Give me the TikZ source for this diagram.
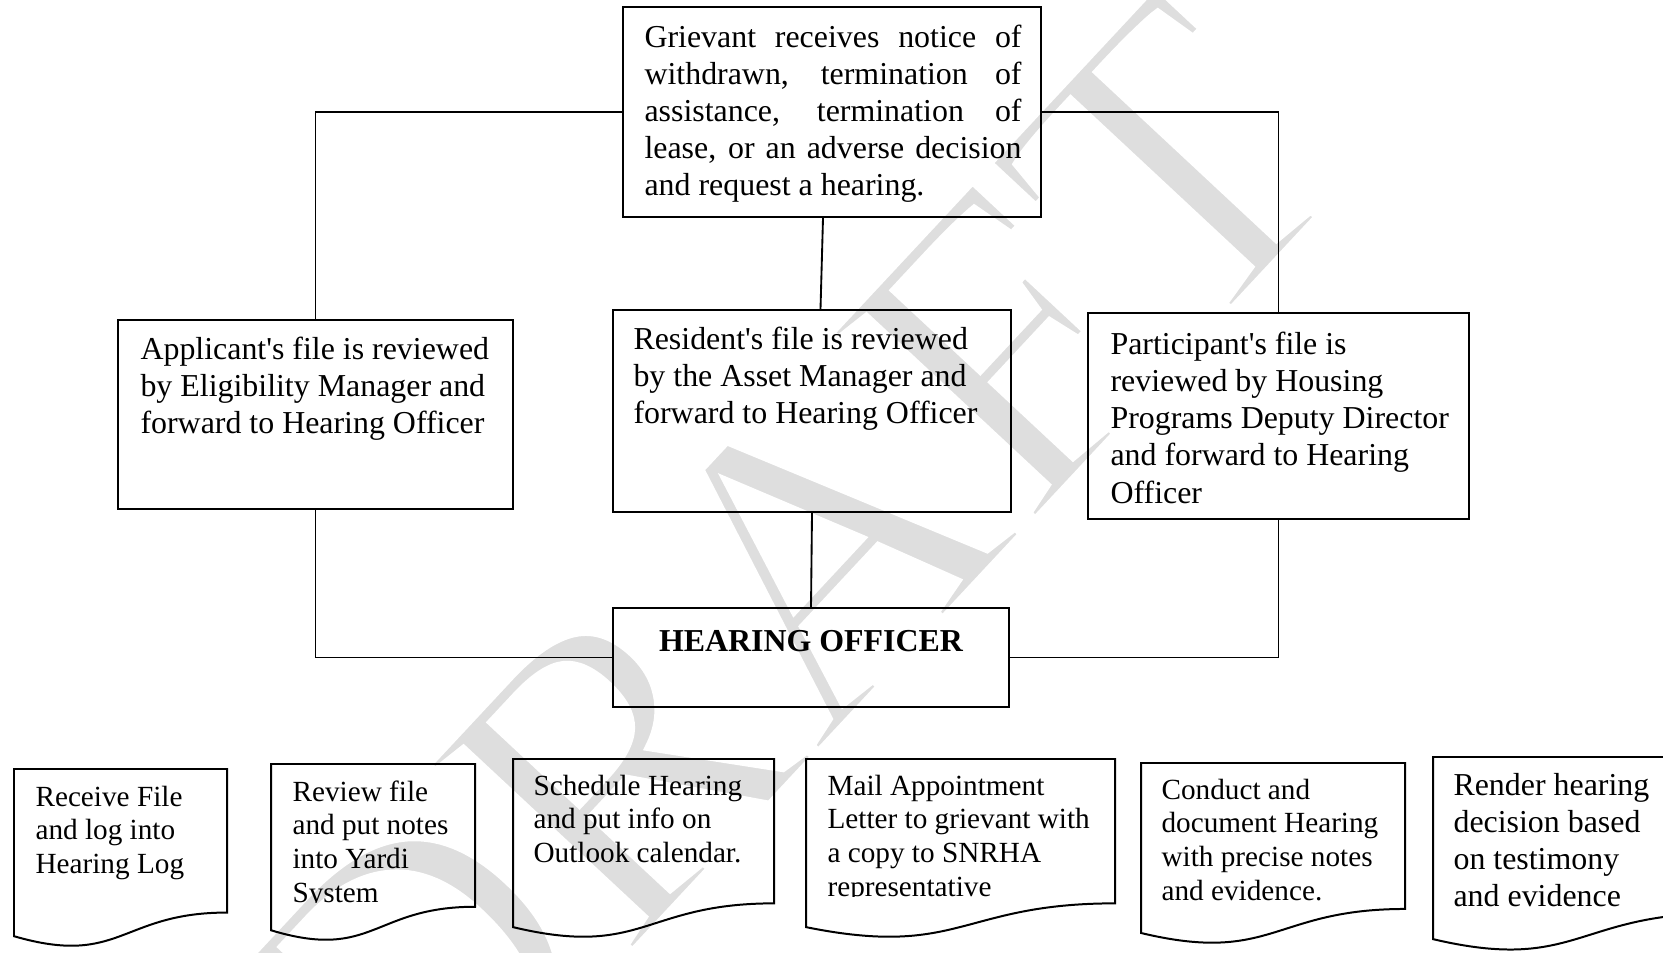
\documentclass[tikz,border=0pt]{standalone}
\usepackage{fontspec}
\setmainfont{Liberation Serif}[Ligatures=TeXOff]
\usetikzlibrary{calc}
\newdimen\pxu \pxu=0.3762pt
\newcommand\nsp{\spaceskip=0pt\xspaceskip=0pt\relax}
\newcommand\jline[1]{\makebox[377\pxu][s]{#1}}
\newcommand\docshape[5]{% name, x0, x1, top, h
  \coordinate (#1-nw) at (#2,#4);
  \coordinate (#1-ne) at (#3,#4);
  \draw[docline] (#1-nw) -- (#1-ne) -- (#3,{#4+0.802*#5})
    .. controls ({(#2+#3)/2},{#4+0.802*#5}) and ({(#2+#3)/2},{#4+1.1075*#5}) .. (#2,{#4+0.934*#5}) -- cycle;}
\begin{document}
\begin{tikzpicture}[x=0.3762pt,y=-0.3762pt,
  box/.style={draw, line width=0.75pt, rectangle, inner sep=0pt},
  conn/.style={draw, line width=0.7pt},
  docline/.style={draw, line width=0.75pt, line join=miter},
  bigtxt/.style={anchor=base west, inner sep=0pt, align=left, text width=#1\pxu, font=\fontsize{12}{13.92}\selectfont},
  smalltxt/.style={anchor=base west, inner sep=0pt, align=left, text width=#1\pxu, font=\fontsize{11}{12.7}\selectfont},
  wmark/.style={text=black!13, inner sep=0pt, font=\fontsize{160}{160}\selectfont}
]
\useasboundingbox (0,0) rectangle (1663,953);
% watermark
\node[wmark, rotate=47] (wm) at (786,583) {\special{pdf:literal direct 1 1 1 RG 3.5 w 2 Tr}DRAFT\special{pdf:literal direct 0 Tr}};

% boxes
\node[box, minimum width=418\pxu, minimum height=210\pxu] (griev) at (832,112) {};
\node[box, minimum width=395\pxu, minimum height=189\pxu] (app) at (315.5,414.5) {};
\node[box, minimum width=398\pxu, minimum height=202\pxu] (res) at (812,411) {};
\node[box, minimum width=381\pxu, minimum height=206\pxu] (part) at (1278.5,416) {};
\node[box, minimum width=396\pxu, minimum height=99\pxu] (ho) at (811,657.5) {};

% connectors
\draw[conn] (griev.west) -| (app.north);
\draw[conn] (griev.east) -| (part.north);
\draw[conn] ($(griev.south)+(-9,0)$) -- ($(res.north)+(8.5,0)$);
\draw[conn] (res.south) -- (ho.north);
\draw[conn] (app.south) |- (ho.west);
\draw[conn] (part.south) |- (ho.east);

% texts
\node[bigtxt=377] (gtxt) at (644,48) {\nsp\jline{Grievant receives notice of}\\
\jline{withdrawn, termination of}\\
\jline{assistance, termination of}\\
\jline{lease, or an adverse decision}\\
and request a hearing.};
\node[bigtxt=370] (atxt) at (140,360) {\nsp Applicant's file is reviewed\\by Eligibility Manager and\\forward to Hearing Officer};
\node[bigtxt=370] (rtxt) at (633,350) {\nsp Resident's file is reviewed\\by the Asset Manager and\\forward to Hearing Officer};
\node[bigtxt=355] (ptxt) at (1110,355) {\nsp Participant's file is\\reviewed by Housing\\Programs Deputy Director\\and forward to Hearing\\Officer};
\node[anchor=base, inner sep=0pt, font=\fontsize{12}{13.92}\selectfont\bfseries] (hotxt) at (811,651) {\nsp HEARING OFFICER};

% documents
\docshape{d1}{14}{227}{769}{179}
\docshape{d2}{271}{475}{764}{178}
\docshape{d3}{513}{774}{759}{180}
\docshape{d4}{806}{1115}{759}{180}
\docshape{d5}{1141}{1405}{763}{182}
\docshape{d6}{1433}{1720}{757}{195}

\node[smalltxt=185] (t1) at (35,806) {\nsp Receive File\\and log into\\Hearing Log};
\begin{scope}
\clip (271,700) rectangle (475,902.5);
\node[smalltxt=175] (t2) at (292,801) {\nsp Review file\\and put notes\\into Yardi\\System};
\end{scope}
\node[smalltxt=235] (t3) at (533,795) {\nsp Schedule Hearing\\and put info on\\Outlook calendar.};
\begin{scope}
\clip (806,700) rectangle (1115,896);
\node[smalltxt=280] (t4) at (827,795) {\nsp Mail Appointment\\Letter to grievant with\\a copy to SNRHA\\representative};
\end{scope}
\node[smalltxt=240] (t5) at (1161,799) {\nsp Conduct and\\document Hearing\\with precise notes\\and evidence.};
\node[bigtxt=205] (t6) at (1453,795) {\nsp Render hearing\\decision based\\on testimony\\and evidence};
\end{tikzpicture}
\end{document}
